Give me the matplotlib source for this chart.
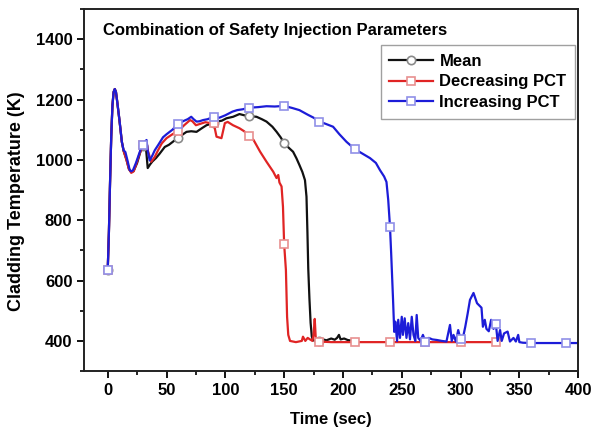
import numpy as np
import matplotlib
matplotlib.use("Agg")
import matplotlib.pyplot as plt
from matplotlib.ticker import MultipleLocator

plt.rcParams['font.family'] = ['Liberation Sans', 'DejaVu Sans']
plt.rcParams['font.weight'] = 'bold'

# Mean
t_mean = [0, 1, 2, 3, 4, 5, 6, 7, 8, 10, 12, 13.5, 16, 18, 20, 22, 25, 28, 30, 31.5, 32.5, 34, 36, 38,
          41, 44, 48.5, 52, 56, 60, 64, 67, 71, 75.5, 80, 84, 88, 90, 92.5, 97, 101, 106.6, 112, 116,
          120, 126.5, 131, 135, 140, 143.6, 147, 150, 154, 157.6, 160.5, 163, 165.5, 167.7, 169,
          169.8, 170.5, 171.5, 172.5, 173.5, 174.5, 178, 180, 183, 186, 190, 193, 195, 196.6, 198,
          201, 204, 207]
y_mean = [636, 760, 930, 1080, 1180, 1225, 1235, 1225, 1195, 1130, 1060, 1030, 1000, 970, 960, 963,
          990, 1030, 1045, 1055, 1040, 973, 985, 995, 1006, 1020, 1043, 1050, 1062, 1072, 1085,
          1093, 1095, 1093, 1105, 1115, 1120, 1122, 1127, 1130, 1138, 1143, 1152, 1148, 1145, 1143,
          1135, 1127, 1110, 1093, 1075, 1056, 1040, 1027, 1005, 983, 960, 933, 878, 760, 640, 540,
          460, 415, 402, 400, 400, 405, 402, 408, 404, 410, 420, 405, 408, 403, 401]

# Decreasing PCT
t_dec = [0, 1, 2, 3, 4, 5, 6, 7, 8, 10, 12, 13.5, 16, 18, 20, 22, 24, 27, 30, 32, 33, 34, 37, 40,
         42.8, 46, 50, 55, 60, 65, 70, 72, 75, 79, 83, 87, 90, 92.5, 96.7, 99.6, 102, 106.5, 112,
         116, 120, 124, 129.6, 135, 140.7, 143.5, 145, 146, 147.8, 149, 150, 151.5, 152.5, 153.5,
         155, 160, 165, 166, 168, 170, 172, 174, 175, 176, 177, 180, 185, 190, 200, 210, 220, 240,
         260, 270, 280, 300, 320, 330, 332]
y_dec = [636, 760, 930, 1080, 1180, 1225, 1235, 1225, 1195, 1130, 1060, 1030, 999, 970, 957, 962,
         983, 1020, 1048, 1062, 1060, 1032, 994, 1010, 1032, 1055, 1072, 1085, 1096, 1115, 1132,
         1128, 1115, 1120, 1125, 1122, 1124, 1077, 1072, 1122, 1126, 1115, 1105, 1095, 1080, 1066,
         1027, 994, 961, 940, 950, 925, 912, 845, 721, 635, 480, 420, 400, 396, 400, 414, 400, 410,
         405, 400, 420, 473, 400, 397, 397, 396, 396, 396, 396, 396, 396, 396, 396, 396, 396, 396,
         396]

# Increasing PCT
t_inc = [0, 1, 2, 3, 4, 5, 6, 7, 8, 10, 12, 13.5, 15, 17, 18.7, 20, 21.5, 24, 25.8, 28, 30, 32, 33,
         34, 35.7, 38, 40, 43, 47, 50, 55, 60, 65, 68, 71, 73, 75.5, 78, 81, 85, 90, 95, 100, 106,
         110, 115, 120, 128, 135, 142, 150, 157, 163, 170, 175, 180, 185, 191.6, 197, 203, 210, 217,
         223, 228, 231.5, 235, 237, 238.5, 240, 241, 242.6, 243.6, 244.5, 246, 247, 248.5, 250, 251,
         252.5, 254, 255.5, 257, 258.5, 260, 261.5, 262.7, 264, 266, 268, 270, 273, 276, 280, 284,
         288, 291, 292.5, 294, 296, 298, 300, 302, 304, 306, 308, 311, 314, 317.8, 319, 320.6, 322,
         324, 326, 328, 330, 331.5, 333.6, 335, 337, 340, 342, 345, 347, 349, 350, 353, 360, 370,
         380, 390, 400]
y_inc = [636, 760, 930, 1080, 1180, 1225, 1235, 1225, 1195, 1132, 1060, 1032, 1026, 995, 966, 962,
         966, 990, 1010, 1035, 1048, 1062, 1066, 1030, 998, 1015, 1032, 1050, 1075, 1085, 1100,
         1120, 1130, 1135, 1143, 1135, 1127, 1128, 1132, 1135, 1143, 1140, 1148, 1160, 1165, 1168,
         1173, 1175, 1178, 1177, 1179, 1172, 1165, 1150, 1140, 1127, 1120, 1110, 1085, 1060, 1036,
         1020, 1006, 990, 966, 945, 927, 867, 778, 690, 536, 430, 464, 400, 470, 410, 480, 420, 475,
         410, 459, 405, 480, 420, 400, 486, 410, 400, 420, 398, 410, 405, 403, 400, 398, 453, 400,
         420, 398, 436, 405, 410, 447, 490, 536, 559, 525, 510, 447, 470, 440, 432, 470, 440, 456,
         400, 436, 400, 425, 431, 398, 410, 398, 420, 396, 394, 393, 393, 393, 393, 393]

labels = ['Mean', 'Decreasing PCT', 'Increasing PCT']
line_colors = ['#111111', '#e02424', '#1c1cd8']
edge_colors = ['#8a8a8a', '#e89090', '#9090e8']
markers = ['o', 's', 's']
series = [(t_mean, y_mean), (t_dec, y_dec), (t_inc, y_inc)]

fig = plt.figure(figsize=(5.93, 4.32), dpi=100)
ax = fig.add_axes([0.142, 0.141, 0.833, 0.838])

for (t, y), lab, lc, ec, m in zip(series, labels, line_colors, edge_colors, markers):
    idx = [i for i, v in enumerate(t) if v % 30 == 0]
    ax.plot(t, y, color=lc, lw=1.6, label=lab, marker=m, markevery=idx,
            markersize=6, markerfacecolor='white', markeredgecolor=ec, markeredgewidth=1.2)

ax.set_xlim(-20, 400)
ax.set_ylim(300, 1500)
ax.xaxis.set_major_locator(MultipleLocator(50))
ax.xaxis.set_minor_locator(MultipleLocator(25))
ax.yaxis.set_major_locator(MultipleLocator(200))
ax.yaxis.set_minor_locator(MultipleLocator(100))
ax.set_yticks([400, 600, 800, 1000, 1200, 1400])
ax.tick_params(which='major', direction='out', length=5, width=1.3, labelsize=12)
ax.tick_params(which='minor', direction='out', length=3, width=1.2)
for s in ax.spines.values():
    s.set_linewidth(1.4)
    s.set_color('#222222')

ax.set_xlabel('Time (sec)', fontsize=12, fontweight='bold', labelpad=10)
ax.set_ylabel('Cladding Temperature (K)', fontsize=13, fontweight='bold')
ax.yaxis.set_label_coords(-0.12, 0.47)
ax.text(0.038, 0.942, 'Combination of Safety Injection Parameters', transform=ax.transAxes,
        fontsize=12, fontweight='bold', va='center', ha='left')

leg = ax.legend(loc='upper right', bbox_to_anchor=(0.993, 0.90), fontsize=12, fancybox=False,
                edgecolor='#888888', handlelength=2.6, borderpad=0.5, labelspacing=0.35,
                handletextpad=0.4, borderaxespad=0)
leg.get_frame().set_linewidth(1.0)

fig.savefig('out.png', dpi=100)
